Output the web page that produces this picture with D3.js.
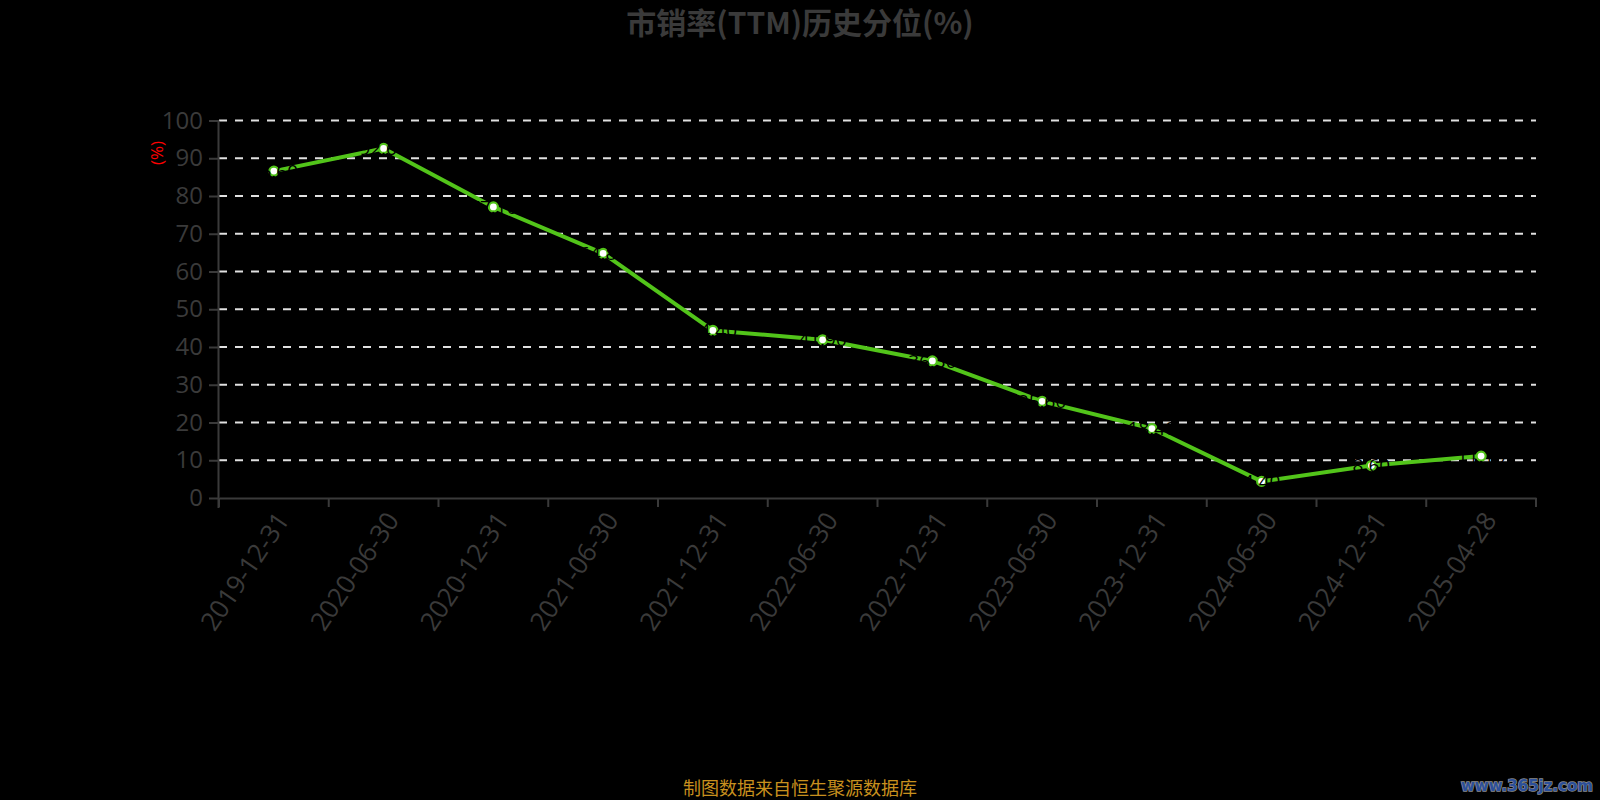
<!DOCTYPE html>
<html><head><meta charset="utf-8">
<script src="https://cdn.jsdelivr.net/npm/d3@7/dist/d3.min.js"></script>
<style>html,body{margin:0;padding:0;background:#000;}svg{display:block;}</style>
</head><body>
<script>
const categories = ["2019-12-31","2020-06-30","2020-12-31","2021-06-30","2021-12-31","2022-06-30","2022-12-31","2023-06-30","2023-12-31","2024-06-30","2024-12-31","2025-04-28"];
const values = [86.6, 92.6, 77.1, 64.8, 44.4, 41.9, 36.3, 25.6, 18.4, 4.4, 8.6, 11.1];
const yTicks = [0,10,20,30,40,50,60,70,80,90,100];
const titleText = "市销率(TTM)历史分位(%)";
const yName = "(%)";
const footer = "制图数据来自恒生聚源数据库";
const watermark = "www.365jz.com";

const W = 1600, H = 800;
const m = {left: 219, right: 1536, top: 120.5, bottom: 498};
const svg = d3.select("body").append("svg").attr("width", W).attr("height", H).style("background", "#000");
svg.append("rect").attr("width", W).attr("height", H).attr("fill", "#000");

const x = d3.scaleBand().domain(categories).range([m.left, m.right]);
const y = d3.scaleLinear().domain([0, 100]).range([m.bottom, m.top]);
const cx = d => x(d) + x.bandwidth() / 2;

const font = "'Open Sans', 'Noto Sans', sans-serif";
const axisColor = "#3a3a3a";

// title
svg.append("text").attr("x", 800).attr("y", 34).attr("text-anchor", "middle")
  .attr("font-family", "'Noto Sans CJK SC', sans-serif").attr("font-weight", "bold")
  .attr("font-size", 30).attr("fill", "#3a3a3a").text(titleText);

// grid
svg.append("g").selectAll("line").data(yTicks.filter(t => t > 0)).join("line")
  .attr("x1", m.left).attr("x2", m.right)
  .attr("y1", d => y(d)).attr("y2", d => y(d))
  .attr("stroke", "#e0e0e0").attr("stroke-width", 2).attr("stroke-dasharray", "8,8");

// y axis
const yAxis = svg.append("g").attr("transform", `translate(${m.left},0)`)
  .call(d3.axisLeft(y).tickValues(yTicks).tickSize(10).tickPadding(6));
yAxis.select(".domain").attr("stroke", axisColor).attr("stroke-width", 2).attr("d", `M-0.5,${m.bottom + 10}V${m.top}`);
yAxis.selectAll(".tick line").attr("stroke", axisColor).attr("stroke-width", 2);
yAxis.selectAll(".tick text").attr("fill", axisColor).attr("font-size", 24).attr("font-family", font);

// x axis
const xAxis = svg.append("g").attr("transform", `translate(0,${m.bottom})`)
  .call(d3.axisBottom(x).tickSize(0).tickFormat(""));
xAxis.select(".domain").attr("stroke", axisColor).attr("stroke-width", 2);
const bounds = categories.map(c => x(c)).concat([m.right]);
xAxis.selectAll(".bt").data(bounds).join("line").attr("class", "bt")
  .attr("x1", d => d).attr("x2", d => d).attr("y1", 0).attr("y2", 9)
  .attr("stroke", axisColor).attr("stroke-width", 2);
xAxis.selectAll(".xl").data(categories).join("text").attr("class", "xl")
  .attr("transform", d => `translate(${cx(d) + 9},${17}) rotate(-56)`)
  .attr("text-anchor", "end").attr("dy", "0.35em")
  .attr("fill", axisColor).attr("font-size", 26).attr("font-family", font).text(d => d);

// y name
svg.append("text").attr("transform", `translate(157,153) rotate(-90)`)
  .attr("text-anchor", "middle").attr("dy", "0.35em")
  .attr("fill", "#ff0000").attr("font-size", 17).attr("font-family", font).text(yName);

// line
const line = d3.line().x((d, i) => cx(categories[i])).y(d => y(d));
svg.append("path").datum(values).attr("d", line).attr("fill", "none")
  .attr("stroke", "#52c41a").attr("stroke-width", 4).attr("stroke-linejoin", "round");

svg.append("g").selectAll("circle").data(values).join("circle")
  .attr("cx", (d, i) => cx(categories[i])).attr("cy", d => y(d)).attr("r", 4.5)
  .attr("fill", "#fff").attr("stroke", "#52c41a").attr("stroke-width", 2.2);

// labels (black, effectively hidden on black bg)
svg.append("g").selectAll("text").data(values).join("text")
  .attr("x", (d, i) => cx(categories[i])).attr("y", d => y(d)).attr("dy", "0.35em")
  .attr("text-anchor", "middle").attr("font-size", 19).attr("font-family", font)
  .attr("fill", "#000").text(d => d.toFixed(2));

// footer
svg.append("text").attr("x", 800).attr("y", 795).attr("text-anchor", "middle")
  .attr("font-family", "'Noto Sans CJK SC', sans-serif").attr("font-size", 18)
  .attr("fill", "#c8901e").text(footer);

// watermark
svg.append("text").attr("x", 1593).attr("y", 791).attr("text-anchor", "end")
  .attr("font-family", "'DejaVu Sans', sans-serif").attr("font-weight", "bold")
  .attr("font-size", 15).attr("fill", "#2b4f9a").attr("stroke", "#8a8a8a").attr("stroke-width", 1.5)
  .attr("paint-order", "stroke").text(watermark);
</script>
</body></html>
